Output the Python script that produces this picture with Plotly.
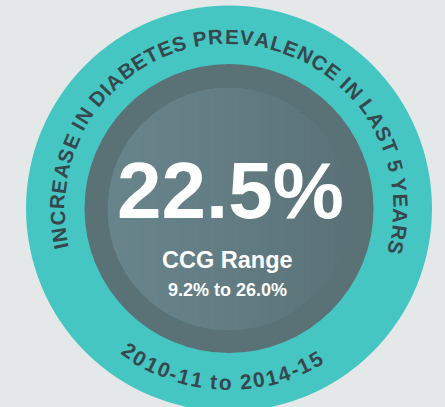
import numpy as np
import plotly.graph_objects as go

# ---- data ----
headline_value = 22.5          # % increase
range_low = 9.2                # CCG range low (%)
range_high = 26.0              # CCG range high (%)
range_label = "CCG Range"
arc_title = "INCREASE IN DIABETES PREVALENCE IN LAST 5 YEARS"
arc_period = "2010-11 to 2014-15"

W, H = 445, 407
CX, CY = 229, 208.5
R_OUT, R_RING, R_IN = 203, 144.5, 121

BG = "#e4e8e9"
TEAL = "#45c6c2"
RING = "#5a7176"
TXT_DARK = "#36474e"
FONT = "Liberation Sans, Arial"

fig = go.Figure()

shapes = []
shapes.append(dict(type="circle", xref="x", yref="y", x0=CX - R_OUT, x1=CX + R_OUT,
                   y0=CY - R_OUT, y1=CY + R_OUT, fillcolor=TEAL, line=dict(width=0), layer="below"))
shapes.append(dict(type="circle", xref="x", yref="y", x0=CX - R_RING, x1=CX + R_RING,
                   y0=CY - R_RING, y1=CY + R_RING, fillcolor=RING, line=dict(width=0), layer="below"))

# inner disc with horizontal gradient (light left -> darker right)
c_left = np.array([0x67, 0x84, 0x8a])
c_right = np.array([0x5a, 0x71, 0x77])
n = 48
icx, icy = CX - 0.5, CY + 0.5
for k in range(n):
    a = icx - R_IN + 2 * R_IN * k / n
    t = k / (n - 1)
    col = c_left + (c_right - c_left) * (t ** 1.3)
    colstr = "rgb(%d,%d,%d)" % tuple(col.round().astype(int))
    th0 = np.arccos(np.clip((a - icx) / R_IN, -1, 1))
    ths = np.linspace(th0, -th0, 60)
    xs = icx + R_IN * np.cos(ths)
    ys = icy - R_IN * np.sin(ths)
    path = "M " + " L ".join("%.2f,%.2f" % (x, y) for x, y in zip(xs, ys)) + " Z"
    shapes.append(dict(type="path", xref="x", yref="y", path=path, fillcolor=colstr,
                       line=dict(width=0), layer="below"))

annotations = []

# centre texts
annotations.append(dict(x=230, y=190.5, xref="x", yref="y", showarrow=False,
                        text="%.1f%%" % headline_value,
                        font=dict(family=FONT, size=80, color="white", weight="bold")))
annotations.append(dict(x=227.5, y=260, xref="x", yref="y", showarrow=False, text=range_label,
                        font=dict(family=FONT, size=23.5, color="white", weight="bold")))
annotations.append(dict(x=227, y=290, xref="x", yref="y", showarrow=False,
                        text="%.1f%% to %.1f%%" % (range_low, range_high),
                        font=dict(family=FONT, size=18, color="white", weight="bold")))

# approximate Arial Bold advance widths (em)
WID = {" ": .278, "-": .333, "t": .333, "o": .611, "I": .278, "N": .722, "C": .722, "R": .722,
       "E": .667, "A": .722, "S": .667, "D": .722, "B": .722, "T": .611, "P": .667, "V": .667,
       "L": .611, "Y": .667}


def char_centers(s):
    w = [WID.get(ch, .556) for ch in s]
    cum = np.cumsum([0] + w[:-1]) + np.array(w) / 2
    return (cum - cum[0]) / (cum[-1] - cum[0])


def place_arc(s, a_start, a_end, radius, size, top=True):
    fr = char_centers(s)
    for ch, f in zip(s, fr):
        if ch == " ":
            continue
        th = a_start + (a_end - a_start) * f
        rad = np.radians(th)
        x = CX + radius * np.cos(rad)
        y = CY - radius * np.sin(rad)
        ang = (90 - th) if top else (270 - th)
        annotations.append(dict(x=x, y=y, xref="x", yref="y", showarrow=False, text=ch,
                                textangle=ang, xanchor="center", yanchor="middle",
                                font=dict(family=FONT, size=size,
                                          color=TXT_DARK, weight="bold")))


place_arc(arc_title, 192.5, -13.3, 172, 20.5, top=True)
place_arc(arc_period, 234.9, 299.9, 174, 21, top=False)

fig.update_layout(
    width=W, height=H, margin=dict(l=0, r=0, t=0, b=0),
    paper_bgcolor=BG, plot_bgcolor=BG,
    xaxis=dict(range=[0, W], visible=False, fixedrange=True),
    yaxis=dict(range=[H, 0], visible=False, fixedrange=True),
    shapes=shapes, annotations=annotations, showlegend=False,
)
fig.write_html("out.html", config={"displayModeBar": False, "staticPlot": True},
               post_script="document.body.style.margin='0';document.body.style.background='%s';" % BG)
